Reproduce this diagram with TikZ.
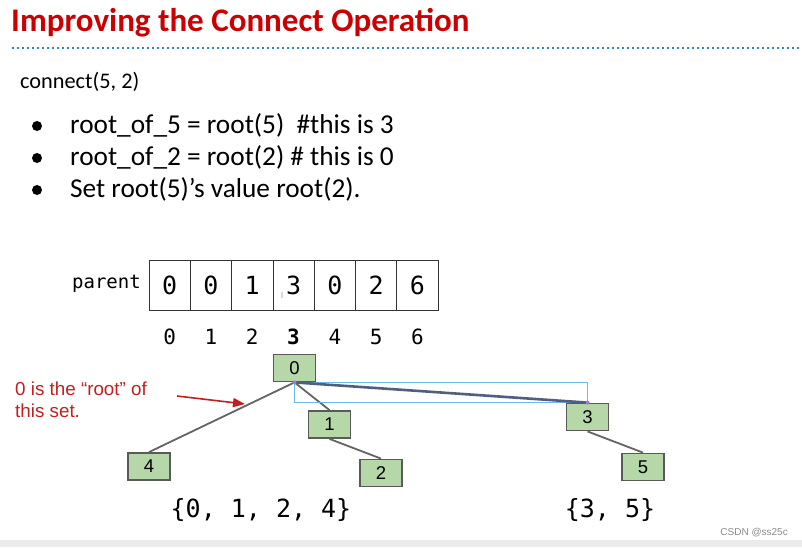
\documentclass[tikz,border=0pt]{standalone}
\usepackage{fontspec}
\setmainfont{Liberation Sans}
\newfontfamily\titlefont{Carlito}
\newfontfamily\monofont{DejaVu Sans Mono}
\usetikzlibrary{arrows.meta}
\definecolor{titlered}{RGB}{204,0,0}
\definecolor{notered}{RGB}{192,32,32}
\definecolor{dotblue}{RGB}{50,130,200}
\definecolor{nodegreen}{RGB}{182,215,168}
\definecolor{nodeborder}{RGB}{90,90,90}
\definecolor{edgegray}{RGB}{100,100,100}
\definecolor{thickline}{RGB}{80,95,125}
\definecolor{selblue}{RGB}{110,185,235}
\definecolor{selpurple}{RGB}{170,110,230}
\begin{document}
\begin{tikzpicture}[x=1pt,y=-1pt,
  treenode/.style={draw=nodeborder,line width=1.8pt,fill=nodegreen,minimum width=42pt,minimum height=27pt,inner sep=0pt,font=\fontsize{18.5}{18.5}\selectfont},
  cell/.style={draw=black!80,line width=0.8pt,minimum width=41.3pt,minimum height=50pt,inner sep=0pt,font=\monofont\fontsize{25}{25}\selectfont},
  idx/.style={inner sep=0pt,font=\monofont\fontsize{21}{21}\selectfont},
  edge/.style={draw=edgegray,line width=1.8pt},
  bodytext/.style={anchor=west,inner sep=0pt,font=\titlefont\fontsize{27.3}{27.3}\selectfont},
  bulletdot/.style={fill=black,circle,inner sep=0pt,minimum size=10pt}
]
\useasboundingbox (0,0) rectangle (802,547);
\fill[white] (0,0) rectangle (802,547);
\fill[black!8] (0,540) rectangle (802,547);

% title
\node[anchor=west,inner sep=0pt,text=titlered,font=\titlefont\bfseries\fontsize{33}{33}\selectfont] (title) at (11,23) {Improving the Connect Operation};
\draw[dotblue,line width=1.5pt,dash pattern=on 1.5pt off 3.5pt] (12,48) -- (800,48);

% text
\node[anchor=west,inner sep=0pt,font=\titlefont\fontsize{22.3}{22.3}\selectfont] (conn) at (20,82) {connect(5, 2)};
\node[bulletdot] (b1) at (37,126) {};
\node[bulletdot] (b2) at (37,158) {};
\node[bulletdot] (b3) at (37,190) {};
\node[bodytext] (t1) at (70,125) {root\_of\_5 = root(5)\ \ \#this is 3};
\node[bodytext] (t2) at (70,157) {root\_of\_2 = root(2) \# this is 0};
\node[bodytext] (t3) at (70,189) {Set root(5)’s value root(2).};

% parent array
\node[anchor=east,inner sep=0pt,font=\monofont\fontsize{19}{19}\selectfont] (plabel) at (141,284) {parent};
\foreach \v [count=\i from 0] in {0,0,1,3,0,2,6} {
  \node[cell] (c\i) at (169.65+41.3*\i,285) {\v};
  \node[idx] (i\i) at (169.65+41.3*\i,337) {\ifnum\i=3 \textbf{\i}\else\i\fi};
}
\node[inner sep=0pt,text=black!35,font=\fontsize{9}{9}\selectfont] (cursor) at (282,295) {I};

% tree
\node[treenode] (n0) at (294.5,368) {0};
\node[treenode] (n1) at (329.5,424.5) {1};
\node[treenode] (n4) at (149,466.5) {4};
\node[treenode] (n2) at (381,473) {2};
\node[treenode] (n3) at (587.5,417) {3};
\node[treenode] (n5) at (643,467) {5};

\draw[edge] (n0.south) -- (n4.north);
\draw[edge] (n0.south) -- (n1.north);
\draw[edge] (n1.south) -- (n2.north);
\draw[edge] (n3.south) -- (n5.north);
\draw[selblue,line width=0.6pt] (n0.south) rectangle (n3.north);
\draw[thickline,line width=2.6pt] (n0.south) -- (n3.north);
\fill[selpurple] (n0.south) circle (2pt);
\fill[selpurple] (n3.north) circle (2pt);

% annotation
\node[anchor=north west,inner sep=0pt,align=left,text=notered,font=\fontsize{18.8}{22}\selectfont] (note) at (15,382) {0 is the “root” of\\this set.};
\coordinate (arrS) at (177,396);
\coordinate (arrE) at (245,404);
\draw[notered,line width=1.6pt,-{Triangle[length=12pt,width=9pt]}] (arrS) -- (arrE);

% sets
\node[inner sep=0pt,font=\monofont\fontsize{25}{25}\selectfont] (set1) at (261,510) {\{0, 1, 2, 4\}};
\node[inner sep=0pt,font=\monofont\fontsize{25}{25}\selectfont] (set2) at (610,510) {\{3, 5\}};

% watermark
\node[anchor=east,inner sep=0pt,text=black!45,font=\fontsize{10}{10}\selectfont] (wm) at (788,533) {CSDN @ss25c};
\end{tikzpicture}
\end{document}
